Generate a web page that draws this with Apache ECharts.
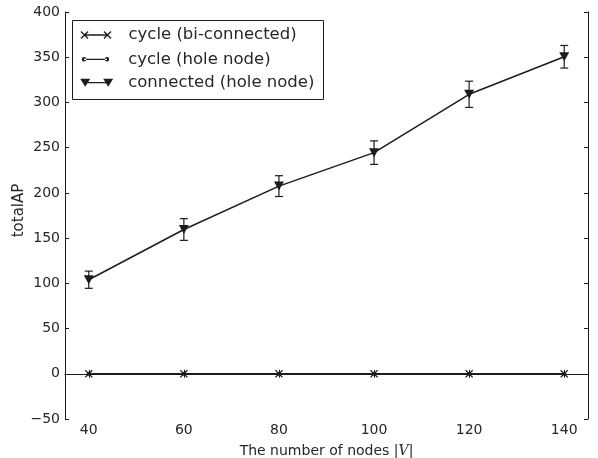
<!DOCTYPE html>
<html>
<head>
<meta charset="utf-8">
<script src="https://cdn.jsdelivr.net/npm/echarts@6/dist/echarts.min.js"></script>
<style>
html,body{margin:0;padding:0;background:#fff;}
#chart{width:598px;height:458px;}
</style>
</head>
<body>
<div id="chart"></div>
<script>
// ---- data ----
const nodes = [40, 60, 80, 100, 120, 140];
const cycleBiConnected = [0, 0, 0, 0, 0, 0];
const cycleHoleNode = [0, 0, 0, 0, 0, 0];
const connectedHoleNode = [104, 159.5, 207.5, 244.5, 309, 350.5];
const connectedErr = [9.5, 12, 11.5, 13, 14.5, 12.5];
const xTickValues = [40, 60, 80, 100, 120, 140];
const seriesNames = ['cycle (bi-connected)', 'cycle (hole node)', 'connected (hole node)'];

// ---- styles ----
const INK = '#1c1c1c';
const TXT = '#262626';
const FONT = '"DejaVu Sans", sans-serif';

const xMarker = 'path://M0,0.9 L0.9,0 L4,3.1 L7.1,0 L8,0.9 L4.9,4 L8,7.1 L7.1,8 L4,4.9 L0.9,8 L0,7.1 L3.1,4 Z';

const iconX = 'path://M0,0.9 L0.9,0 L4,3.1 L7.1,0 L8,0.9 L4.9,4 L8,7.1 L7.1,8 L4,4.9 L0.9,8 L0,7.1 L3.1,4 Z ' +
  'M4,3.35 L27,3.35 L27,4.65 L4,4.65 Z ' +
  'M23,0.9 L23.9,0 L27,3.1 L30.1,0 L31,0.9 L27.9,4 L31,7.1 L30.1,8 L27,4.9 L23.9,8 L23,7.1 L26.1,4 Z';
const iconDot = 'path://M1.8,4 A2.2,2.2 0 1,0 6.2,4 A2.2,2.2 0 1,0 1.8,4 Z M4,3.35 L27,3.35 L27,4.65 L4,4.65 Z M24.8,4 A2.2,2.2 0 1,0 29.2,4 A2.2,2.2 0 1,0 24.8,4 Z';
const iconTri = 'path://M0,0 L10,0 L5,8 Z M5,3.35 L28,3.35 L28,4.65 L5,4.65 Z M23,0 L33,0 L28,8 Z';

const zip = (a, b) => a.map((v, i) => [v, b[i]]);
const errData = nodes.map((x, i) => [x, connectedHoleNode[i] - connectedErr[i], connectedHoleNode[i] + connectedErr[i]]);

const chart = echarts.init(document.getElementById('chart'), null, {renderer: 'canvas'});

function mkLegend(name, icon, left, top, w, h, pad) {
  return {
    data: [{name: name, icon: icon}],
    left: left, top: top, orient: 'vertical', padding: 0,
    itemWidth: w, itemHeight: h, selectedMode: false,
    itemStyle: {color: INK, borderWidth: 0},
    lineStyle: {width: 0},
    textStyle: {fontFamily: FONT, fontSize: 16.5, color: TXT, lineHeight: 20, padding: [0, 0, 0, pad]},
    z: 10
  };
}

const axisLineStyle = {show: true, lineStyle: {color: INK, width: 1}};
const tickStyle = {show: true, inside: true, length: 4, lineStyle: {color: INK, width: 1}};

chart.setOption({
  backgroundColor: '#fff',
  animation: false,
  grid: {left: 65, right: 10, top: 12, bottom: 39, containLabel: false, outerBoundsMode: 'none'},
  legend: [
    mkLegend(seriesNames[0], iconX, 80.5, 25, 31, 8, 12),
    mkLegend(seriesNames[1], iconDot, 81.8, 49.3, 27.4, 4.4, 14),
    mkLegend(seriesNames[2], iconTri, 80.2, 72.7, 33, 8, 10)
  ],
  graphic: [{
    type: 'rect', z: 9,
    shape: {x: 72.5, y: 20.5, width: 251, height: 79},
    style: {fill: '#fff', stroke: INK, lineWidth: 1}
  }],
  xAxis: [{
    type: 'value', min: 35, max: 145, position: 'bottom',
    axisLine: axisLineStyle,
    axisTick: Object.assign({customValues: xTickValues}, tickStyle),
    axisLabel: {customValues: xTickValues, fontFamily: FONT, fontSize: 14, color: TXT, margin: 4},
    splitLine: {show: false},
    name: 'The number of nodes |{i|V}|',
    nameLocation: 'middle', nameGap: 25, nameMoveOverlap: false,
    nameTextStyle: {fontFamily: FONT, fontSize: 14, color: TXT,
      rich: {i: {fontFamily: '"DejaVu Serif", serif', fontStyle: 'italic', fontSize: 14, color: TXT}}}
  }, {
    type: 'value', min: 35, max: 145, position: 'top',
    axisLine: axisLineStyle,
    axisTick: Object.assign({customValues: xTickValues}, tickStyle),
    axisLabel: {show: false},
    splitLine: {show: false}
  }],
  yAxis: [{
    type: 'value', min: -50, max: 400, interval: 50, position: 'left',
    axisLine: axisLineStyle,
    axisTick: tickStyle,
    axisLabel: {fontFamily: FONT, fontSize: 14, color: TXT, margin: 5,
      formatter: v => (v < 0 ? '\u2212' + Math.abs(v) : String(v))},
    splitLine: {show: false},
    name: 'totalAP', nameLocation: 'middle', nameGap: 38, nameMoveOverlap: false,
    nameTextStyle: {fontFamily: FONT, fontSize: 15, color: TXT, padding: [0, 0, 0, 10]}
  }, {
    type: 'value', min: -50, max: 400, interval: 50, position: 'right',
    axisLine: axisLineStyle,
    axisTick: tickStyle,
    axisLabel: {show: false},
    splitLine: {show: false}
  }],
  series: [{
    name: seriesNames[0], type: 'line', data: zip(nodes, cycleBiConnected),
    symbol: xMarker, symbolSize: 8, showAllSymbol: true,
    lineStyle: {color: INK, width: 1.5},
    itemStyle: {color: INK, borderWidth: 0},
    z: 3
  }, {
    name: seriesNames[1], type: 'line', data: zip(nodes, cycleHoleNode),
    symbol: 'circle', symbolSize: 4, showAllSymbol: true,
    lineStyle: {color: INK, width: 1.5},
    itemStyle: {color: INK, borderWidth: 0},
    z: 3
  }, {
    name: seriesNames[2], type: 'line', data: zip(nodes, connectedHoleNode),
    symbol: 'triangle', symbolRotate: 180, symbolSize: [10, 9], showAllSymbol: true,
    lineStyle: {color: INK, width: 1.5},
    itemStyle: {color: INK, borderWidth: 0},
    z: 4
  }, {
    name: 'err', type: 'custom', data: errData,
    encode: {x: 0, y: [1, 2]},
    z: 3,
    renderItem: function (params, api) {
      const x = api.value(0);
      const lo = api.coord([x, api.value(1)]);
      const hi = api.coord([x, api.value(2)]);
      const cw = 4;
      const st = {stroke: INK, lineWidth: 1.2};
      return {
        type: 'group',
        children: [
          {type: 'line', shape: {x1: lo[0], y1: lo[1], x2: hi[0], y2: hi[1]}, style: st},
          {type: 'line', shape: {x1: lo[0] - cw, y1: lo[1], x2: lo[0] + cw, y2: lo[1]}, style: st},
          {type: 'line', shape: {x1: hi[0] - cw, y1: hi[1], x2: hi[0] + cw, y2: hi[1]}, style: st}
        ]
      };
    }
  }]
});
</script>
</body>
</html>
